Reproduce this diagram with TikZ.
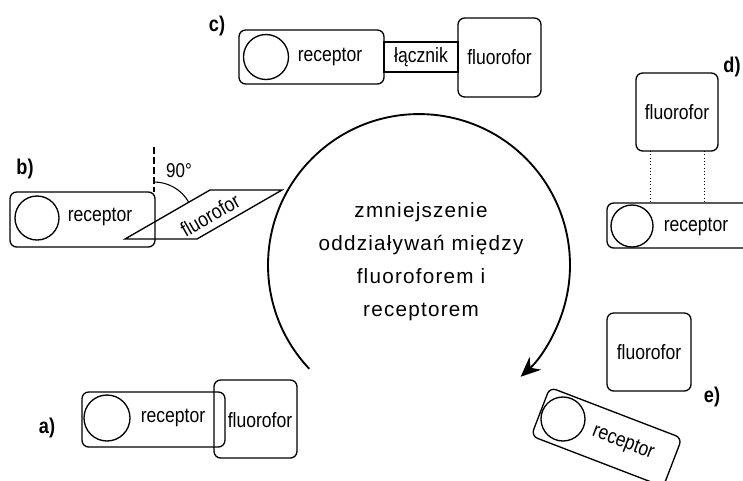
\documentclass[tikz,border=0pt]{standalone}
\usepackage{fontspec}
\usetikzlibrary{arrows.meta,calc}
\newfontfamily\nar{Liberation Sans}[FakeStretch=0.85]
\newfontfamily\widesp{Liberation Sans}[LetterSpace=6]
\def\pxu{0.75pt}
\tikzset{
  recbox/.style={draw, line width=1pt, rounded corners=5pt, inner sep=0pt, outer sep=0pt},
  flbox/.style={draw, line width=1pt, rounded corners=5pt, inner sep=0pt, outer sep=0pt},
  linkbox/.style={draw, line width=1pt, inner sep=0pt, outer sep=0pt},
  ring/.style={draw, circle, line width=1pt, inner sep=0pt},
  lbl/.style={font=\nar\fontsize{15.5}{18}\selectfont, inner sep=0pt},
  tag/.style={font=\nar\bfseries\fontsize{16}{18}\selectfont, inner sep=0pt},
}
\begin{document}
\begin{tikzpicture}[x=0.75pt,y=-0.75pt]
\useasboundingbox (0,0) rectangle (743,480);
\clip (0,0) rectangle (743,480);
% ---- c)
\node[tag] (tc) at (217,26) {c)};
\node[recbox, minimum width=145*\pxu, minimum height=54*\pxu] (rc) at (311.5,57) {};
\node[ring, minimum size=45*\pxu] (cc) at (266,57) {};
\node[lbl] (lc) at (330,57) {receptor};
\node[linkbox, lbl, minimum width=74*\pxu, minimum height=30*\pxu] (kc) at (421,57) {łącznik};
\node[flbox, lbl, minimum width=83*\pxu, minimum height=79*\pxu] (fc) at (499.5,57.5) {fluorofor};
% ---- d)
\node[tag] (td) at (732,67) {d)};
\node[flbox, lbl, minimum width=82*\pxu, minimum height=78*\pxu] (fd) at (677,112) {fluorofor};
\node[recbox, minimum width=190*\pxu, minimum height=45*\pxu] (rd) at (702,225.5) {};
\node[ring, minimum size=42*\pxu] (cd) at (632,226) {};
\node[lbl] (ld) at (696,227) {receptor};
\coordinate (d1) at (650,0);
\coordinate (d2) at (704,0);
\draw[dotted, line width=0.5pt] (fd.south -| d1) -- (rd.north -| d1);
\draw[dotted, line width=0.5pt] (fd.south -| d2) -- (rd.north -| d2);
% ---- b)
\node[tag] (tb) at (25,169) {b)};
\node[recbox, minimum width=145*\pxu, minimum height=55*\pxu] (rb) at (82.5,219.5) {};
\node[ring, minimum size=44*\pxu] (cb) at (37,218) {};
\node[lbl] (lb) at (100,217) {receptor};
\coordinate (bt) at (154,147);
\draw[line width=0.8pt, dash pattern=on 5pt off 2.5pt] (bt) -- (bt |- rb.north);
\draw[line width=1pt] (125,239) -- (210,190) -- (282,190) -- (197,239) -- cycle;
\node[lbl, rotate=30] (fb) at (210,215) {fluorofor};
\draw[line width=0.8pt] (154,182) arc[start angle=90, end angle=30, radius=30pt];
\node[lbl, font=\nar\fontsize{15}{17}\selectfont] (ab) at (179,171) {90°};
% ---- a)
\node[tag] (ta) at (47,428) {a)};
\node[recbox, minimum width=143*\pxu, minimum height=55*\pxu] (ra) at (153.5,419.5) {};
\node[ring, minimum size=46*\pxu] (ca) at (107,418) {};
\node[lbl] (la) at (173,418) {receptor};
\node[flbox, minimum width=83*\pxu, minimum height=78*\pxu] (fa) at (255.5,419) {};
\node[lbl] (lfa) at (260,420) {fluorofor};
% ---- e)
\node[flbox, lbl, minimum width=84*\pxu, minimum height=78*\pxu] (fe) at (649,352) {fluorofor};
\node[tag] (te) at (712,397) {e)};
\node[recbox, rotate=-21, minimum width=141.5*\pxu, minimum height=52*\pxu] (re) at (606.6,437) {};
\node[ring, minimum size=44*\pxu] (ce) at (563,419) {};
\node[lbl, rotate=-21] (le) at (623,443) {receptor};
% ---- central cycle
\node[font=\widesp\fontsize{15.5}{24.75}\selectfont, align=center, inner sep=0pt] (ct) at (421,262)
  {zmniejszenie\\oddziaływań między\\fluoroforem i\\receptorem};
\coordinate (as) at (309.3,368.8);
\draw[line width=1.4pt, -{Stealth[length=15pt,width=13pt,inset=5pt]}]
  (as) arc[start angle=223.4, end angle=-47.7, radius=113.25pt];
\end{tikzpicture}
\end{document}
